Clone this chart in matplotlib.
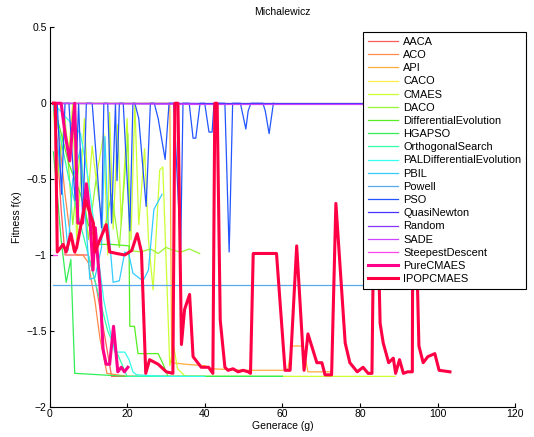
import numpy as np
import matplotlib.pyplot as plt
from matplotlib.ticker import FuncFormatter

plt.rcParams['font.family'] = ['Liberation Sans', 'DejaVu Sans']

names = ["AACA", "ACO", "API", "CACO", "CMAES", "DACO", "DifferentialEvolution",
         "HGAPSO", "OrthogonalSearch", "PALDifferentialEvolution", "PBIL", "Powell",
         "PSO", "QuasiNewton", "Random", "SADE", "SteepestDescent", "PureCMAES",
         "IPOPCMAES"]

colors = ["#ff5a5a", "#ff8a4a", "#ffad3a", "#ffee44", "#ccff33", "#99f533",
          "#55ee22", "#33ee55", "#33ffaa", "#33ffee", "#33ccff", "#55aaee",
          "#2255ff", "#4433ff", "#8833ff", "#cc44ff", "#ff44ee", "#ff0088",
          "#ff0044"]

# generation / fitness traces
aaca_x = [1, 2, 3, 4, 6, 8, 10, 12, 14, 16, 20, 25, 30]
aaca_y = [0, -0.3, -0.7, -1.0, -1.0, -1.0, -1.0, -1.2, -1.5, -1.8, -1.8, -1.8, -1.8]

aco_x = [1, 2, 3, 4, 5, 6.1, 7, 8.6, 10, 11.7, 13, 14.8, 20, 30, 40]
aco_y = [0, -0.1, -0.35, -0.6, -0.8, -0.97, -1.0, -1.0, -1.05, -1.3, -1.55, -1.78,
         -1.8, -1.8, -1.8]

api_x = [1, 31, 31.5, 35, 40, 42, 50, 61.4, 62.4, 65.3, 66.6, 72.7]
api_y = [0, 0, -1.71, -1.72, -1.73, -1.75, -1.76, -1.76, -1.6, -1.6, -1.77, -1.77]

caco_x = [1, 38, 110]
caco_y = [0, 0, 0]

cmaes_x = [1, 3, 5, 6, 7, 9, 10, 11, 12, 14,
           15, 15.5, 16.4, 17.6, 18.5, 20, 21, 22, 23, 24.5,
           25.5, 26.7, 28.4, 29.2, 31, 32, 33, 35, 37, 40,
           50, 60, 70, 80, 89]
cmaes_y = [0, 0, -0.3, 0, -0.9, -0.1, -0.6, -0.28, -0.5, -0.2,
           -1.0, -0.06, -0.83, -0.14, -0.8, -0.1, -0.9, 0, -0.8, -0.3,
           -0.9, -1.23, -0.44, -0.42, -1.73, -1.6, -1.75, -1.8, -1.8, -1.8,
           -1.8, -1.8, -1.8, -1.8, -1.8]

daco_x = [1, 2, 4, 6, 8, 10, 12, 14, 16, 18, 20.2, 20.6, 23.6, 26, 28, 30, 32, 34, 36, 38.7]
daco_y = [0, -0.5, -0.1, -0.8, -0.3, -0.9, -0.5, -0.85, -0.6, -0.95, -0.2, -0.97,
          -0.98, -0.96, -0.99, -0.95, -0.97, -0.98, -0.96, -0.99]

de_x = [1, 5, 8, 10, 12.5, 16, 20.5, 20.7, 21.9, 22.8, 28, 29.3, 30.5, 40, 50, 60]
de_y = [0, -0.4, -0.6, -0.8, -0.93, -0.93, -0.94, -1.47, -1.47, -1.65, -1.65,
        -1.72, -1.8, -1.8, -1.8, -1.8]

hgapso_x = [1, 2, 3, 4.3, 5.5, 6.5, 20, 40, 60]
hgapso_y = [-0.32, -0.6, -0.9, -1.18, -1.03, -1.78, -1.8, -1.8, -1.8]

orth_x = [1, 5, 10, 15, 20, 25, 30]
orth_y = [0, -0.5, -1.0, -1.5, -1.8, -1.8, -1.8]

palde_x = [1, 8, 10, 12, 14, 16, 16.8, 19.4, 20.5, 21.5, 22.5, 30, 40]
palde_y = [0, -0.2, -0.5, -0.9, -1.3, -1.55, -1.64, -1.64, -1.69, -1.77, -1.79,
           -1.8, -1.8]

pbil_x = [1, 3, 4.8, 6, 8, 10.4, 11.7, 13.4, 14.3, 15,
          16.4, 18, 19.4, 20.5, 21.5, 23, 24.1, 25.5, 26.9, 29]
pbil_y = [0, -0.5, -0.97, -0.5, -0.3, -1.16, -1.15, -0.95, -0.22, -0.75,
          -1.18, -1.17, -0.98, -1.0, -1.12, -1.15, -1.17, -1.1, -0.7, -0.6]

powell_x = [1, 103]
powell_y = [-1.2, -1.2]

pso_x = [1, 2, 3.1, 4, 5, 6.6, 7.5, 8.6, 9.5, 11,
         13.4, 14, 15, 16, 17, 17.4, 18, 19, 20.7, 21.5,
         22, 23, 24.9, 26, 27, 28, 29.8, 30.8, 32, 33.8,
         34.4, 36, 37, 37.7, 38.8, 40, 41.1, 41.9, 42.4, 45.2,
         46.3, 47.2, 49.2, 50.6, 51.2, 51.9, 55, 55.6, 56.6, 57.7]
pso_y = [0, 0, -0.6, 0, 0, -0.64, 0, -0.79, 0, 0,
         -0.82, 0, 0, -0.79, 0, -0.51, 0, 0, -0.84, 0,
         0, -0.1, -0.68, 0, 0, -0.1, -0.37, 0, 0, -0.97,
         0, 0, -0.23, -0.23, 0, 0, -0.19, -0.19, 0, 0,
         -0.98, 0, 0, -0.17, -0.05, 0, 0, -0.05, -0.2, 0]

quasi_x = [1, 100]
quasi_y = [0, 0]

random_x = [1, 38]
random_y = [0, 0]

sade_x = [1, 38, 110]
sade_y = [0, -0.008, -0.008]

steep_x = [1, 2]
steep_y = [-1.0, -1.0]

pure_x = [1, 2, 3, 4, 5.2, 6.5, 7.3, 8.5, 9.5, 10.3,
          11.2, 11.8, 13, 13.8, 14.6, 15.5, 16.5, 17.6, 18.5, 19.3,
          20.2]
pure_y = [0, 0, 0, -0.2, -0.38, 0, -0.79, -0.79, -0.53, -0.7,
          -1.1, -0.82, -1.2, -1.62, -1.72, -1.72, -1.47, -1.77, -1.74, -1.77,
          -1.74]

ipop_x = [1, 1.5, 2, 3.5, 4.3, 5.5, 6.5, 7, 9.3, 11.3,
          11.7, 14.6, 15.5, 17.3, 19.4, 21.2, 22.6, 23.7, 24.8, 25.8,
          28, 30.1, 31.8, 32.3, 33.1, 34, 34.8, 36.1, 37, 39.1,
          41, 42.1, 42.6, 43.2, 44, 45.2, 46, 47.3, 48.6, 49.9,
          51.2, 51.8, 52.5, 58.5, 60.7, 62, 63.7, 65.6, 66.6, 68.9,
          70.2, 71, 72.7, 73.8, 76.2, 77.4, 79.3, 80.8, 82.1, 83.1,
          83.9, 85.2, 86, 87.4, 88.6, 89.2, 90.2, 91.2, 92.3, 93.5,
          93.7, 95.2, 96.3, 97.5, 99.3, 100.4, 103.2]
ipop_y = [0, 0, -0.98, -0.93, -0.98, -0.86, -0.98, -0.95, -0.64, -0.79,
          -0.98, -0.8, -0.98, -0.99, -1.0, -0.97, -0.86, -0.98, -1.78, -1.69,
          -1.72, -1.77, -1.78, 0, 0, -1.59, -1.36, -1.26, -1.67, -1.74,
          -1.74, -1.78, 0, 0, -1.43, -1.74, -1.76, -1.75, -1.77, -1.76,
          -1.77, -1.78, -0.99, -0.99, -1.76, -1.76, -0.94, -1.76, -1.52, -1.71,
          -1.71, -1.79, -1.79, -0.66, -1.58, -1.71, -1.77, -1.74, -1.78, -1.78,
          0, -1.45, -1.58, -1.71, -1.68, -1.78, -1.69, -1.78, -1.77, -1.77,
          0, -1.6, -1.71, -1.67, -1.65, -1.76, -1.77]

series_x = [aaca_x, aco_x, api_x, caco_x, cmaes_x, daco_x, de_x, hgapso_x, orth_x,
            palde_x, pbil_x, powell_x, pso_x, quasi_x, random_x, sade_x, steep_x,
            pure_x, ipop_x]
series_y = [aaca_y, aco_y, api_y, caco_y, cmaes_y, daco_y, de_y, hgapso_y, orth_y,
            palde_y, pbil_y, powell_y, pso_y, quasi_y, random_y, sade_y, steep_y,
            pure_y, ipop_y]

fig = plt.figure(figsize=(5.34, 4.37), dpi=100)
ax = fig.add_axes([0.0927, 0.0693, 0.872, 0.868])

for i in range(len(names)):
    lw = 2.2 if i >= 17 else 0.9
    ax.plot(series_x[i], series_y[i], color=colors[i], lw=lw, label=names[i])

ax.set_xlim(0, 120)
ax.set_ylim(-2, 0.5)
ax.set_xticks(np.arange(0, 121, 20))
ax.set_yticks([-2, -1.5, -1, -0.5, 0, 0.5])
ax.yaxis.set_major_formatter(FuncFormatter(lambda v, p: ('%g' % v).replace('-', '\u2212')))
ax.tick_params(direction='in', length=3, width=0.8, labelsize=7.5, pad=2)
ax.spines['top'].set_visible(False)
ax.spines['right'].set_visible(False)
for s in ['left', 'bottom']:
    ax.spines[s].set_linewidth(0.8)

ax.set_title("Michalewicz", fontsize=7.5, pad=9)
ax.set_xlabel("Generace (g)", fontsize=7.5, labelpad=1)
ax.set_ylabel("Fitness f(x)", fontsize=7.5, labelpad=3)

leg = ax.legend(loc='upper left', bbox_to_anchor=(0.680, 0.927),
                bbox_transform=fig.transFigure, fontsize=7.9, frameon=True,
                fancybox=False, framealpha=1, edgecolor='black', borderpad=0.45,
                labelspacing=0.29, handlelength=2.7, handletextpad=0.5,
                borderaxespad=0)
leg.get_frame().set_linewidth(0.8)

fig.savefig("out.png", dpi=100)
